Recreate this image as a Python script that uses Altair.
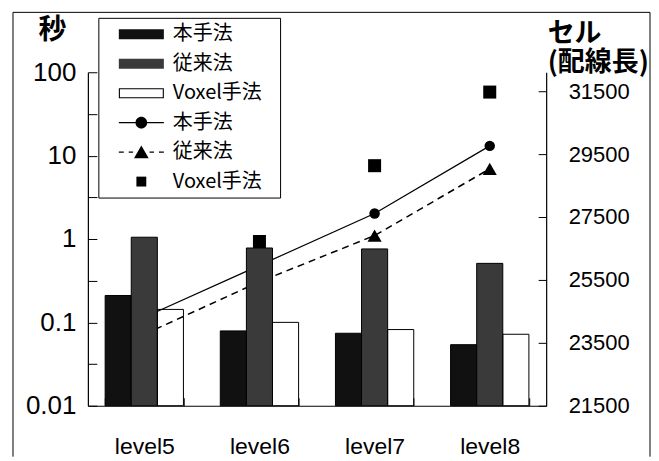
import altair as alt
import pandas as pd

# ---------------- data ----------------
levels = ["level5", "level6", "level7", "level8"]
methods = ["本手法", "従来法", "Voxel手法"]

# seconds (left, log axis) - bars
sec_hon = [0.21, 0.079, 0.074, 0.054]
sec_jur = [1.05, 0.78, 0.76, 0.51]
sec_vox = [0.143, 0.10, 0.082, 0.072]

# cells / wire length (right axis) - lines & markers
cell_hon = [24310, 25960, 27610, 29760]
cell_jur = [23770, 25440, 26910, 29030]
cell_vox = [24300, 26720, 29130, 31470]

left_ticks = [0.01, 0.0316, 0.1, 0.316, 1, 3.16, 10, 31.6, 100]
right_ticks = [21500, 23500, 25500, 27500, 29500, 31500]

legend_keys = ["b本手法", "b従来法", "bVoxel手法", "l本手法", "l従来法", "lVoxel手法"]

# ---------------- tables ----------------
bars_df = pd.DataFrame({
    "level": levels * 3,
    "method": [m for m in methods for _ in levels],
    "sec": sec_hon + sec_jur + sec_vox,
})
lines_df = pd.DataFrame({
    "level": levels * 3,
    "method": [m for m in methods for _ in levels],
    "cells": cell_hon + cell_jur + cell_vox,
})
legend_df = pd.DataFrame({"key": legend_keys})

W, H = 459, 334
LAT = "Liberation Sans"
CJK = "Noto Sans CJK JP"
BLACK = "#111111"
GRAY = "#3a3a3a"

x_axis = alt.Axis(
    orient="bottom", tickBand="extent", tickSize=alt.ExprRef(expr="-8"),
    labelPadding=38, labelAngle=0, labelFont=LAT, labelFontSize=23,
    labelColor="black", domainColor="black", domainWidth=1.2,
    tickColor="black", tickWidth=1, grid=False, title=None,
)
x_enc = alt.X("level:N", scale=alt.Scale(domain=levels, paddingInner=0.32, paddingOuter=0.15),
              axis=x_axis, title=None)

left_axis = alt.Axis(
    orient="left", values=left_ticks,
    labelExpr="abs(log(datum.value)/LN10 - round(log(datum.value)/LN10)) < 0.01 ? format(datum.value, '~g') : ''",
    tickSize=alt.ExprRef(expr="-9"), labelPadding=21, labelFont=LAT, labelFontSize=26,
    labelColor="black", domainColor="black", domainWidth=1.2, tickColor="black",
    tickWidth=1, grid=False, labelOverlap=False,
    title="秒", titleAngle=0, titleX=-36, titleY=-42, titleAlign="center",
    titleBaseline="middle", titleFont=CJK, titleFontSize=28, titleFontWeight="bold",
    titleColor="black",
)

right_axis = alt.Axis(
    orient="right", values=right_ticks, format="d",
    tickSize=alt.ExprRef(expr="-8"), labelPadding=30, labelFont=LAT, labelFontSize=22,
    labelColor="black", domainColor="black", domainWidth=1.2, tickColor="black",
    tickWidth=1, grid=False, labelOverlap=False,
    title=["セル", "(配線長)"], titleAngle=0, titleX=1, titleY=-52, titleAlign="left",
    titleBaseline="top", titleLineHeight=29, titleFont=CJK, titleFontSize=27,
    titleFontWeight="bold", titleColor="black",
)

# ---------------- bars ----------------
bars = alt.Chart(bars_df).mark_bar(stroke="black", strokeWidth=1).encode(
    x=x_enc,
    xOffset=alt.XOffset("method:N", scale=alt.Scale(domain=methods, paddingInner=0, paddingOuter=0)),
    y=alt.Y("sec:Q", scale=alt.Scale(type="log", domain=[0.01, 100], nice=False), axis=left_axis),
    y2=alt.Y2(datum=0.01),
    fill=alt.Fill("method:N", scale=alt.Scale(domain=methods, range=[BLACK, GRAY, "transparent"]),
                  legend=None),
)

# ---------------- lines & markers ----------------
y_right = alt.Y("cells:Q", scale=alt.Scale(domain=[21500, 32100], nice=False, zero=False), axis=right_axis)
base = alt.Chart(lines_df).encode(x=x_enc, y=y_right)
solid = base.transform_filter(alt.datum.method == "本手法").mark_line(color="black", strokeWidth=1.2)
dashed = base.transform_filter(alt.datum.method == "従来法").mark_line(color="black", strokeWidth=1.5,
                                                                    strokeDash=[7, 5])
p_c = base.transform_filter(alt.datum.method == "本手法").mark_point(
    shape="circle", filled=True, size=110, color="black", opacity=1)
p_t = base.transform_filter(alt.datum.method == "従来法").mark_point(
    shape="triangle-up", filled=True, size=200, color="black", opacity=1)
p_s = base.transform_filter(alt.datum.method == "Voxel手法").mark_point(
    shape="square", filled=True, size=170, color="black", opacity=1)
lp = alt.layer(solid, dashed, p_c, p_t, p_s)

# ---------------- legend (fill-only symbol paths) ----------------
rect_sw = "M-1,-0.45H3.1V0.45H-1Z"
ring_sw = "M-1,-0.45H3.1V0.45H-1ZM-0.9,-0.36V0.36H3.0V-0.36Z"
line_c = ("M-1,-0.055H3.1V0.055H-1Z"
          "M0.52,0A0.53,0.53 0 1,1 1.58,0A0.53,0.53 0 1,1 0.52,0Z")
line_t = ("M-1,-0.06H-0.55V0.06H-1Z"
          "M-0.1,-0.06H0.3V0.06H-0.1Z"
          "M1.8,-0.06H2.2V0.06H1.8Z"
          "M2.65,-0.06H3.1V0.06H2.65Z"
          "M1.05,-0.6L1.72,0.55L0.38,0.55Z")
sq = "M0.6,-0.45H1.5V0.45H0.6Z"
leg_paths = [rect_sw, rect_sw, ring_sw, line_c, line_t, sq]
leg_colors = [BLACK, GRAY, "black", "black", "black", "black"]
legend = alt.Legend(
    title=None, orient="none", legendX=31, legendY=-49,
    labelExpr="substring(datum.label, 1)", labelFont=CJK, labelFontSize=20,
    labelColor="black", labelOffset=32, rowPadding=8.5, padding=0,
    symbolStrokeColor="transparent", symbolStrokeWidth=0, symbolSize=484, symbolOpacity=1,
    labelBaseline="middle",
)
leg = alt.Chart(legend_df).transform_filter("false").mark_point(
    filled=True, size=484, strokeWidth=0, opacity=1
).encode(
    shape=alt.Shape("key:N", scale=alt.Scale(domain=legend_keys, range=leg_paths), legend=legend),
    fill=alt.Fill("key:N", scale=alt.Scale(domain=legend_keys, range=leg_colors), legend=legend),
)

# ---------------- frames ----------------
leg_box = alt.Chart().mark_rect(fill="white", stroke="black", strokeWidth=1).encode(
    x=alt.value(11), x2=alt.value(193), y=alt.value(-54), y2=alt.value(126))
f_left = alt.Chart().mark_rule(color="black", strokeWidth=1).encode(
    x=alt.value(-75), y=alt.value(-60), y2=alt.value(385))
f_top = alt.Chart().mark_rule(color="black", strokeWidth=1).encode(
    x=alt.value(-75), x2=alt.value(563), y=alt.value(-60))
f_right = alt.Chart().mark_rule(color="black", strokeWidth=1).encode(
    x=alt.value(563), y=alt.value(-60), y2=alt.value(385))

chart = alt.layer(lp, bars, leg_box, f_left, f_top, f_right, leg).resolve_scale(
    y="independent", fill="independent", shape="independent"
).properties(
    width=W, height=H, background="white",
    padding={"left": 4, "top": 3, "right": 0, "bottom": 0},
).configure_view(stroke="transparent")

chart.save("out.html", embed_options={"renderer": "svg", "actions": False})
